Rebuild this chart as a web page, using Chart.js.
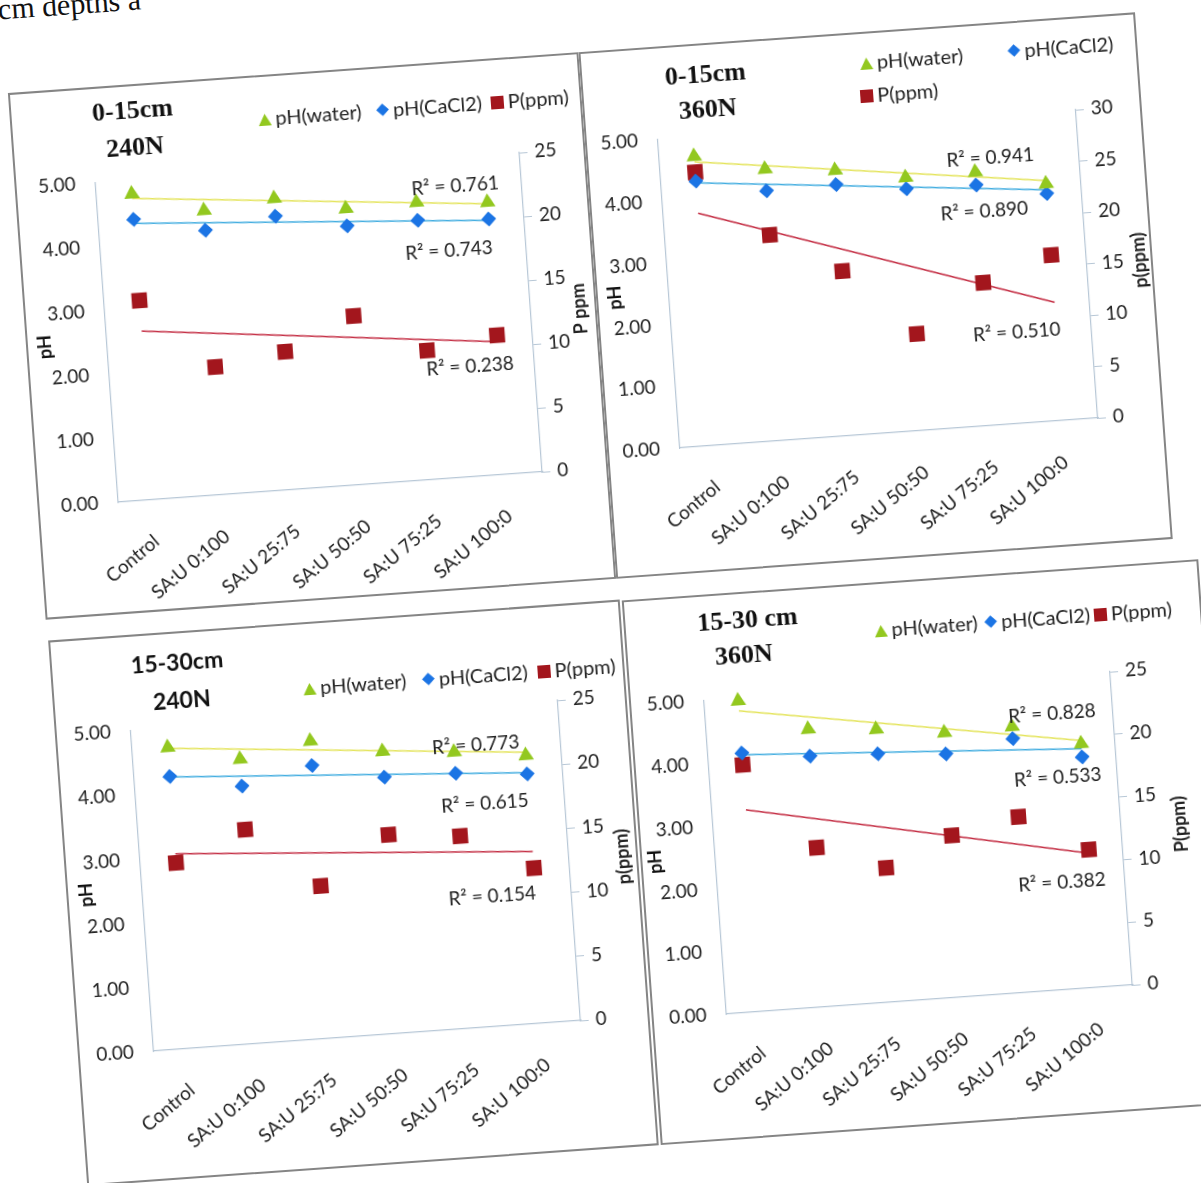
<!DOCTYPE html>
<html lang="en">
<head>
<meta charset="UTF-8" />
<script src="https://cdn.jsdelivr.net/npm/chart.js@4.4.0/dist/chart.umd.min.js"></script>
<style>
  body { margin:0; background:#fff; overflow:hidden; width:1201px; height:1183px; position:relative; }
  #page { position:absolute; left:0; top:0; width:1201px; height:1183px; transform-origin:600px 591px; transform:rotate(-4.1deg); }
  .panel { position:absolute; box-sizing:border-box; border:2px solid #858585; background:#fff; }
  .panel canvas { position:absolute; }
  .ttl { position:absolute; font-weight:bold; color:#111; white-space:nowrap; transform:translate(-50%,-50%); line-height:1; }
  .leg { position:absolute; font:20px Lato, sans-serif; color:#222; white-space:nowrap; transform:translateY(-50%); line-height:1; display:flex; align-items:center; }
  .mk { display:inline-block; margin-right:4px; }
  .mk.tri { width:13px; height:12px; clip-path:polygon(50% 0, 100% 100%, 0 100%); margin-top:4px; }
  .mk.dia { width:9px; height:9px; transform:rotate(45deg); margin-left:2px; margin-right:6px; }
  .mk.sq { width:13px; height:13px; margin-top:3px; }
  .caption { position:absolute; left:41px; top:-47px; font:30px "Liberation Serif", serif; color:#111; white-space:nowrap; line-height:30px; }
</style>
</head>
<body>
<div id="page">
  <div class="caption">cm depths a</div>
</div>
<script>
// categories on the x axis
const categories = ['Control', 'SA:U 0:100', 'SA:U 25:75', 'SA:U 50:50', 'SA:U 75:25', 'SA:U 100:0'];

// 0-15cm, 240N
const water1 = [4.79, 4.45, 4.56, 4.32, 4.34, 4.26];
const cacl1 = [4.39, 4.14, 4.28, 4.05, 4.06, 4.00];
const p1 = [15.6, 10.0, 10.8, 13.2, 10.1, 10.9];
const waterTrend1 = [4.72, 4.24];
const caclTrend1 = [4.33, 3.98];
const pTrend1 = [13.2, 10.4];
const r2Text1 = ['R² = 0.761', 'R² = 0.743', 'R² = 0.238'];

// 0-15cm, 360N
const water2 = [4.69, 4.40, 4.30, 4.10, 4.11, 3.84];
const cacl2 = [4.29, 4.05, 4.07, 3.92, 3.90, 3.68];
const p2 = [26.6, 20.0, 16.0, 9.4, 13.9, 16.1];
const waterTrend2 = [4.60, 3.89];
const caclTrend2 = [4.26, 3.74];
const pTrend2 = [22.6, 11.5];
const r2Text2 = ['R² = 0.941', 'R² = 0.890', 'R² = 0.510'];

// 15-30cm, 240N
const water3 = [4.70, 4.44, 4.64, 4.40, 4.31, 4.18];
const cacl3 = [4.25, 4.02, 4.26, 4.00, 3.98, 3.89];
const p3 = [14.5, 16.7, 11.9, 15.5, 15.0, 12.1];
const waterTrend3 = [4.69, 4.23];
const caclTrend3 = [4.24, 3.91];
const pTrend3 = [15.2, 13.4];
const r2Text3 = ['R² = 0.773', 'R² = 0.615', 'R² = 0.154'];

// 15-30 cm, 360N
const water4 = [4.96, 4.43, 4.35, 4.22, 4.24, 3.89];
const cacl4 = [4.13, 4.00, 3.96, 3.88, 4.05, 3.68];
const p4 = [19.7, 12.7, 10.7, 12.9, 14.0, 11.0];
const waterTrend4 = [4.80, 3.94];
const caclTrend4 = [4.10, 3.81];
const pTrend4 = [16.1, 10.7];
const r2Text4 = ['R² = 0.828', 'R² = 0.533', 'R² = 0.382'];

const seriesNames = ['pH(water)', 'pH(CaCl2)', 'P(ppm)'];

const GREEN = '#93c81f';
const BLUE = '#1b74e4';
const RED = '#a3161d';
const YELLOW_T = '#e4e45c';
const CYAN_T = '#42ade0';
const RED_T = '#c42e44';
const AXIS = '#b7c7d6';
const FONT = 'Lato, "Open Sans", sans-serif';

// text drawn inside the chart: R² labels and the right axis title (reads bottom to top)
const panelText = {
  id: 'panelText',
  afterDraw(chart, args, opts) {
    const { ctx, chartArea, scales } = chart;
    ctx.save();
    ctx.fillStyle = '#222';
    ctx.textAlign = 'center';
    ctx.textBaseline = 'middle';
    ctx.font = '19px ' + FONT;
    opts.r2.forEach((t, k) => {
      const pos = opts.r2Pos[k];
      ctx.fillText(t, scales.x.getPixelForValue(pos[0]), scales.y.getPixelForValue(pos[1]));
    });
    ctx.font = 'bold 18px ' + FONT;
    ctx.translate(chartArea.right + opts.titleOffset, (chartArea.top + chartArea.bottom) / 2);
    ctx.rotate(-Math.PI / 2);
    ctx.fillText(opts.rightTitle, 0, 0);
    ctx.restore();
  }
};

const page = document.getElementById('page');

function makePanel(cfg) {
  const [bx, by, bw, bh] = cfg.box;
  const panel = document.createElement('div');
  panel.className = 'panel';
  panel.style.left = bx + 'px';
  panel.style.top = by + 'px';
  panel.style.width = bw + 'px';
  panel.style.height = bh + 'px';
  page.appendChild(panel);

  const canvas = document.createElement('canvas');
  canvas.width = bw;
  canvas.height = bh;
  canvas.style.left = '-2px';
  canvas.style.top = '-2px';
  panel.appendChild(canvas);

  // title lines
  cfg.title.forEach((line, k) => {
    const d = document.createElement('div');
    d.className = 'ttl';
    d.textContent = line;
    d.style.font = cfg.titleFont;
    d.style.fontWeight = 'bold';
    d.style.left = cfg.titlePos[k][0] + 'px';
    d.style.top = cfg.titlePos[k][1] + 'px';
    panel.appendChild(d);
  });

  // legend
  const marks = [['tri', GREEN], ['dia', BLUE], ['sq', RED]];
  seriesNames.forEach((name, k) => {
    const d = document.createElement('div');
    d.className = 'leg';
    d.innerHTML = '<span class="mk ' + marks[k][0] + '" style="background:' + marks[k][1] + '"></span>' + name;
    d.style.left = cfg.legendPos[k][0] + 'px';
    d.style.top = cfg.legendPos[k][1] + 'px';
    panel.appendChild(d);
  });

  const pl = cfg.plot;
  new Chart(canvas, {
    type: 'line',
    data: {
      labels: categories,
      datasets: [
        { label: seriesNames[0], data: cfg.water, yAxisID: 'y', showLine: false, pointStyle: 'triangle', clip: false,
          pointRadius: 9, backgroundColor: GREEN, borderColor: GREEN, borderWidth: 0, order: 0 },
        { label: seriesNames[1], data: cfg.cacl, yAxisID: 'y', showLine: false, pointStyle: 'rectRot', clip: false,
          pointRadius: 7.5, backgroundColor: BLUE, borderColor: BLUE, borderWidth: 0, order: 0 },
        { label: seriesNames[2], data: cfg.p, yAxisID: 'y2', showLine: false, pointStyle: 'rect', clip: false,
          pointRadius: 11, backgroundColor: RED, borderColor: RED, borderWidth: 0, order: 0 },
        { label: 'trend water', yAxisID: 'y', pointRadius: 0, borderColor: YELLOW_T, borderWidth: 1.5, order: 1,
          data: [{ x: categories[0], y: cfg.waterTrend[0] }, { x: categories[5], y: cfg.waterTrend[1] }] },
        { label: 'trend CaCl2', yAxisID: 'y', pointRadius: 0, borderColor: CYAN_T, borderWidth: 1.5, order: 1,
          data: [{ x: categories[0], y: cfg.caclTrend[0] }, { x: categories[5], y: cfg.caclTrend[1] }] },
        { label: 'trend P', yAxisID: 'y2', pointRadius: 0, borderColor: RED_T, borderWidth: 1.5, order: 1,
          data: [{ x: categories[0], y: cfg.pTrend[0] }, { x: categories[5], y: cfg.pTrend[1] }] }
      ]
    },
    options: {
      responsive: false,
      animation: false,
      devicePixelRatio: 1,
      layout: { padding: { top: pl.top, left: 0, right: 0, bottom: 0 } },
      plugins: {
        legend: { display: false },
        tooltip: { enabled: false },
        panelText: { r2: cfg.r2Text, r2Pos: cfg.r2Pos, rightTitle: cfg.rightTitle, titleOffset: cfg.rightTitleOffset }
      },
      scales: {
        x: {
          offset: true,
          grid: { display: false, drawTicks: false },
          border: { display: true, color: AXIS, width: 1.2 },
          ticks: { autoSkip: false, minRotation: 36, maxRotation: 36, padding: 30, color: '#222', font: { family: FONT, size: 19 } },
          afterFit: s => { s.height = bh - pl.bottom; }
        },
        y: {
          position: 'left',
          min: 0, max: 5,
          grid: { display: false, drawTicks: false },
          border: { display: true, color: AXIS, width: 1.2 },
          ticks: { stepSize: 1, padding: 20, color: '#222', font: { family: FONT, size: 19 }, callback: v => v.toFixed(2) },
          title: { display: true, text: 'pH', color: '#111', font: { family: FONT, size: 18, weight: 'bold' }, padding: { top: cfg.phTitlePad, bottom: 0 } },
          afterFit: s => { s.width = pl.left; }
        },
        y2: {
          position: 'right',
          min: 0, max: cfg.pMax,
          grid: { drawOnChartArea: false, drawTicks: true, tickLength: 8, color: AXIS },
          border: { display: true, color: AXIS, width: 1.2 },
          ticks: { stepSize: 5, padding: 7, color: '#222', font: { family: FONT, size: 19 } },
          afterFit: s => { s.width = bw - pl.right; }
        }
      }
    },
    plugins: [panelText]
  });
}

const serif = 'bold 26px "Liberation Serif", serif';

makePanel({
  box: [45, 52, 572, 528], plot: { left: 81, right: 506, top: 96, bottom: 416 },
  title: ['0-15cm', '240N'], titleFont: serif, titlePos: [[121, 24], [121, 61]],
  legendPos: [[246, 41], [364, 41], [479, 41]],
  water: water1, cacl: cacl1, p: p1, waterTrend: waterTrend1, caclTrend: caclTrend1, pTrend: pTrend1, pMax: 25,
  r2Text: r2Text1, r2Pos: [[4.56, 4.55], [4.41, 3.55], [4.59, 1.72]],
  rightTitle: 'P ppm', rightTitleOffset: 49, phTitlePad: 8
});

makePanel({
  box: [617, 52, 558, 528], plot: { left: 73, right: 492, top: 93, bottom: 402 },
  title: ['0-15cm', '360N'], titleFont: serif, titlePos: [[123, 29], [123, 64]],
  legendPos: [[278, 28], [426, 27], [276, 61]],
  water: water2, cacl: cacl2, p: p2, waterTrend: waterTrend2, caclTrend: caclTrend2, pTrend: pTrend2, pMax: 30,
  r2Text: r2Text2, r2Pos: [[4.23, 4.32], [4.09, 3.47], [4.43, 1.47]],
  rightTitle: 'p(ppm)', rightTitleOffset: 53, phTitlePad: 8
});

makePanel({
  box: [46, 601, 573, 547], plot: { left: 76, right: 504, top: 96, bottom: 417 },
  title: ['15-30cm', '240N'], titleFont: 'bold 23px ' + FONT, titlePos: [[125, 28], [127, 66]],
  legendPos: [[249, 63], [368, 63], [484, 63]],
  water: water3, cacl: cacl3, p: p3, waterTrend: waterTrend3, caclTrend: caclTrend3, pTrend: pTrend3, pMax: 25,
  r2Text: r2Text3, r2Pos: [[4.31, 4.40], [4.38, 3.48], [4.39, 2.02]],
  rightTitle: 'p(ppm)', rightTitleOffset: 54, phTitlePad: 9
});

makePanel({
  box: [621, 602, 578, 546], plot: { left: 75, right: 482, top: 106, bottom: 420 },
  title: ['15-30 cm', '360N'], titleFont: serif, titlePos: [[122, 26], [116, 61]],
  legendPos: [[248, 45], [358, 45], [468, 45]],
  water: water4, cacl: cacl4, p: p4, waterTrend: waterTrend4, caclTrend: caclTrend4, pTrend: pTrend4, pMax: 25,
  r2Text: r2Text4, r2Pos: [[4.60, 4.40], [4.62, 3.37], [4.57, 1.71]],
  rightTitle: 'P(ppm)', rightTitleOffset: 59, phTitlePad: 4
});
</script>
</body>
</html>
